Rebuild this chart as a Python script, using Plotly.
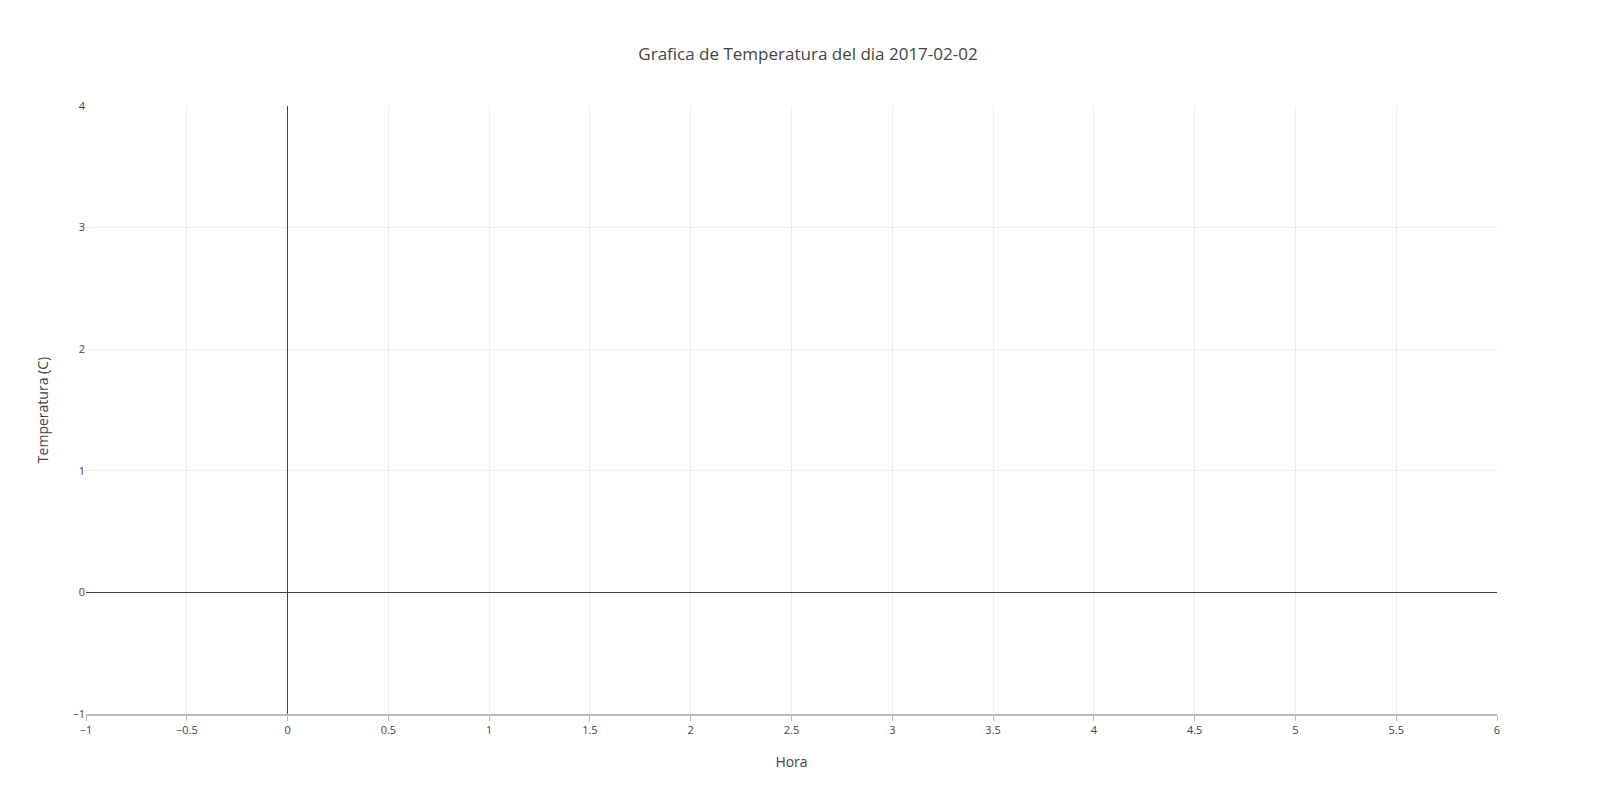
import plotly.graph_objects as go

# no readings for that day: the chart is empty
horas = []
temperaturas = []
fecha = "2017-02-02"

fig = go.Figure()
fig.add_trace(go.Scatter(x=horas, y=temperaturas, mode="lines", name="Temperatura"))

fig.update_layout(
    template="none",
    width=1600, height=800,
    title=dict(text="Grafica de Temperatura del dia " + fecha, x=0.5, xanchor="center", y=0.95,
               font=dict(size=17, color="#444")),
    font=dict(family="Open Sans", size=12, color="#444"),
    margin=dict(l=78, r=111, t=98, b=94),
    plot_bgcolor="white", paper_bgcolor="white",
    showlegend=False,
    xaxis=dict(title=dict(text="Hora", font=dict(size=14)), range=[-1, 6], dtick=0.5,
               showgrid=True, gridcolor="#eee", zeroline=True, zerolinecolor="#444",
               zerolinewidth=1, showline=True, linecolor="#bbb", linewidth=1.5,
               ticks="outside", ticklen=5, tickcolor="#bbb", tickfont=dict(size=11)),
    yaxis=dict(title=dict(text="Temperatura (C)", font=dict(size=14)), range=[-1, 4], dtick=1,
               showgrid=True, gridcolor="#eee", zeroline=True, zerolinecolor="#444",
               zerolinewidth=1, showline=False, ticks="", tickfont=dict(size=11)),
)

fig.write_html("out.html")
